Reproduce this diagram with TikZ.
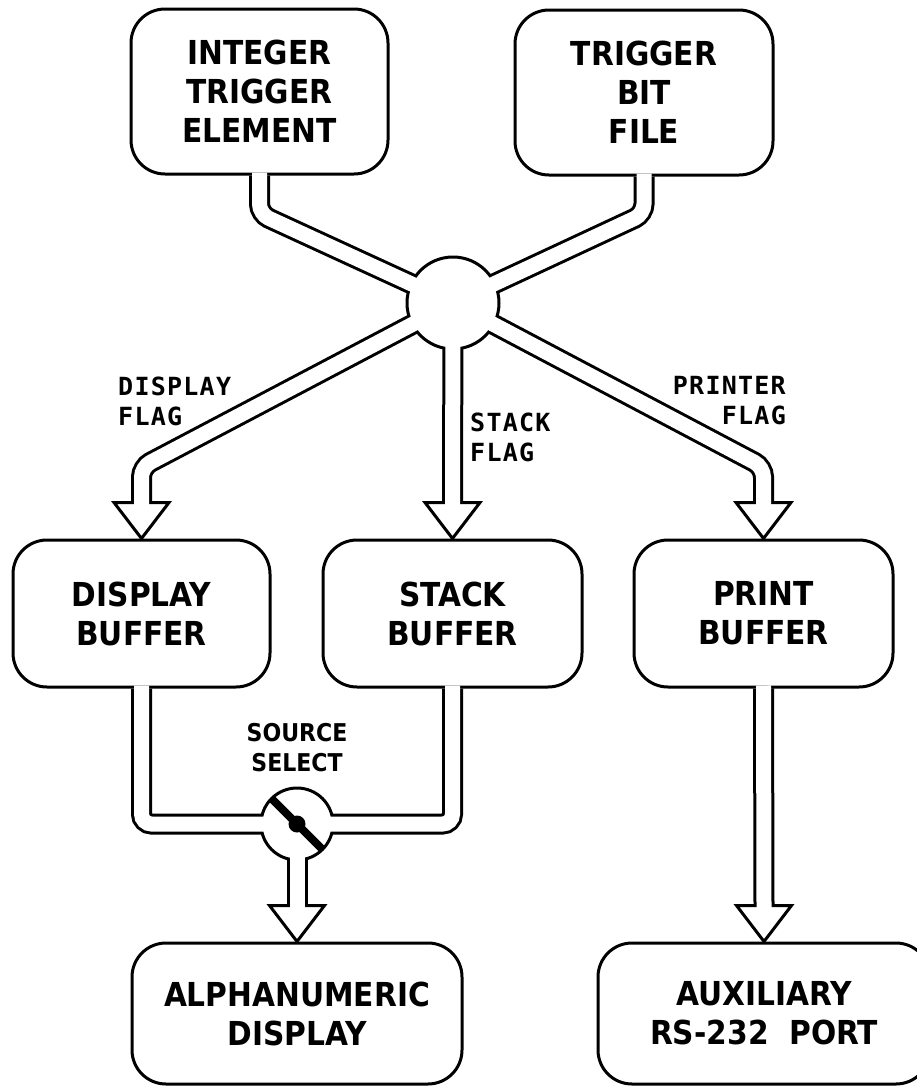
\documentclass[tikz,border=0pt]{standalone}
\usepackage{fontspec}
\usetikzlibrary{calc}
\newfontfamily\boxfont{DejaVu Sans Condensed Bold}
\newfontfamily\flagfont{DejaVu Sans Mono Bold}[LetterSpace=5]
\pgfdeclarelayer{bg}
\pgfdeclarelayer{fg}
\pgfsetlayers{bg,main,fg}
\begin{document}
\begin{tikzpicture}[x=1pt,y=-1pt,
  box/.style={draw, line width=3pt, rounded corners=34pt, fill=white, inner sep=0pt,
    align=center, font=\boxfont\fontsize{33}{39}\selectfont},
  pipeout/.style={line width=21pt, black, rounded corners=10pt},
  pipein/.style={line width=15pt, white, rounded corners=10pt},
  head/.style={draw, line width=3pt, fill=white, line join=miter},
  hubstyle/.style={draw, line width=3pt, fill=white, circle, inner sep=0pt},
  flag/.style={font=\flagfont\fontsize{25}{30}\selectfont, inner sep=0pt}
]
\useasboundingbox (0,0) rectangle (917,1087);

% boxes
\node[box, minimum width=257pt, minimum height=165pt] (ite) at (259.5,91.5) {INTEGER\\TRIGGER\\ELEMENT};
\node[box, minimum width=258pt, minimum height=165pt] (tbf) at (644,92.5) {TRIGGER\\BIT\\FILE};
\node[box, minimum width=257pt, minimum height=147pt] (db) at (141.5,613.5) {DISPLAY\\BUFFER};
\node[box, minimum width=259pt, minimum height=147pt] (sb) at (452.5,613.5) {STACK\\BUFFER};
\node[box, minimum width=259pt, minimum height=147pt] (pb) at (763.5,613.5) {PRINT\\BUFFER};
\node[box, minimum width=330pt, minimum height=141pt] (ad) at (297,1013.5) {ALPHANUMERIC\\DISPLAY};
\node[box, minimum width=332pt, minimum height=141pt] (aux) at (764,1013.5) {AUXILIARY\\RS-232\ \ PORT};

% junctions
\node[hubstyle, minimum size=92pt] (hub) at (453,303) {};
\node[hubstyle, minimum size=72pt] (valve) at (297,824) {};

% bends and arrow bases
\coordinate (b1) at (ite.south |- 0,214);
\coordinate (b2) at (tbf.south |- 0,214);
\coordinate (b3) at (db.north |- 0,467);
\coordinate (b5) at (pb.north |- 0,467);
\coordinate (b6) at (db.south |- valve.center);
\coordinate (b7) at (sb.south |- valve.center);
\coordinate (a3) at ($(db.north)+(0,-36)$);
\coordinate (a4) at ($(sb.north)+(0,-36)$);
\coordinate (a5) at ($(pb.north)+(0,-36)$);
\coordinate (a8) at ($(ad.north)+(0,-36)$);
\coordinate (a9) at ($(aux.north)+(0,-36)$);

% arrowheads
\foreach \t/\a in {db/a3, sb/a4, pb/a5, ad/a8, aux/a9}{
  \draw[head] (\t.north) -- ($(\a)+(-27.5,0)$) -- ($(\a)+(27.5,0)$) -- cycle;
}

% labels
\node[flag, anchor=north west, align=left] (dfl) at (118,377) {DISPLAY\\FLAG};
\node[flag, anchor=north west, align=left] (sfl) at (470,413) {STACK\\FLAG};
\node[flag, anchor=north east, align=right] (pfl) at (786,376) {PRINTER\\FLAG};
\node[font=\boxfont\fontsize{24.5}{30}\selectfont, inner sep=0pt, align=center] (ssl) at (297,748) {SOURCE\\SELECT};

% pipe outlines
\begin{pgfonlayer}{bg}
  \draw[pipeout] (ite.south) -- (b1) -- (hub.center);
  \draw[pipeout] (tbf.south) -- (b2) -- (hub.center);
  \draw[pipeout] (hub.center) -- (b3) -- (a3);
  \draw[pipeout] (hub.center) -- (a4);
  \draw[pipeout] (hub.center) -- (b5) -- (a5);
  \draw[pipeout] (db.south) -- (b6) -- (valve.center);
  \draw[pipeout] (sb.south) -- (b7) -- (valve.center);
  \draw[pipeout] (valve.center) -- (a8);
  \draw[pipeout] (pb.south) -- (a9);
\end{pgfonlayer}

% pipe interiors and valve handle
\begin{pgfonlayer}{fg}
  \draw[pipein, shorten <=-3pt] (ite.south) -- (b1) -- (hub.center);
  \draw[pipein, shorten <=-3pt] (tbf.south) -- (b2) -- (hub.center);
  \draw[pipein, shorten >=-3pt] (hub.center) -- (b3) -- (a3);
  \draw[pipein, shorten >=-3pt] (hub.center) -- (a4);
  \draw[pipein, shorten >=-3pt] (hub.center) -- (b5) -- (a5);
  \draw[pipein, shorten <=-3pt] (db.south) -- (b6) -- (valve.center);
  \draw[pipein, shorten <=-3pt] (sb.south) -- (b7) -- (valve.center);
  \draw[pipein, shorten >=-3pt] (valve.center) -- (a8);
  \draw[pipein, shorten <=-3pt, shorten >=-3pt] (pb.south) -- (a9);
  \draw[line width=8pt] ($(valve.center)+(-25,-25)$) -- ($(valve.center)+(25,25)$);
  \fill (valve.center) circle (8.5pt);
\end{pgfonlayer}
\end{tikzpicture}
\end{document}
